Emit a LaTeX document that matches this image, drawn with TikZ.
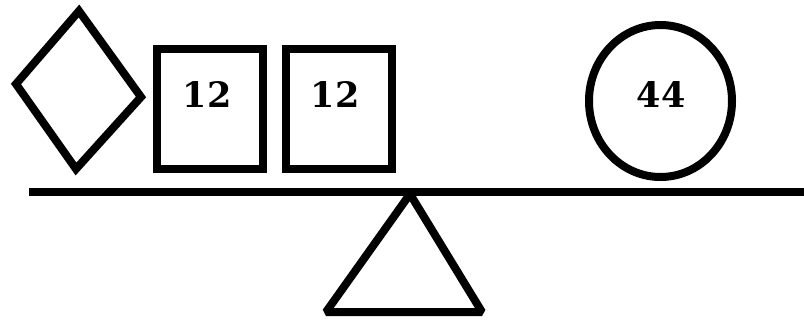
\documentclass[tikz,border=0pt]{standalone}
\usepackage{fontspec}
\newfontfamily\numfont{DejaVu Serif}
\usetikzlibrary{positioning,shapes.geometric}

\begin{document}
\begin{tikzpicture}[
  x=1pt, y=-1pt,
  outline/.style={draw=black, line width=8pt},
  box/.style={outline, minimum width=106pt, minimum height=120pt, inner sep=0pt},
  ball/.style={outline, ellipse, minimum width=143pt, minimum height=152pt, inner sep=0pt},
  num/.style={font=\numfont\bfseries\fontsize{35}{35}\selectfont, inner sep=0pt},
  beam/.style={draw=black, line width=8pt}
]
\useasboundingbox (0,0) rectangle (804,322);
% weights on the left
\coordinate (dtop) at (79,11);
\coordinate (dright) at (141,97);
\coordinate (dbot) at (76,169);
\coordinate (dleft) at (16,84);
\draw[outline, line join=miter] (dtop) -- (dright) -- (dbot) -- (dleft) -- cycle;
\node[box] (b1) at (210,109) {};
\node[box] (b2) at (338.5,109) {};
\node[num] (n1) at (207,95) {12};
\node[num] (n2) at (335,95) {12};
% weight on the right
\node[ball] (c1) at (660.5,101) {};
\node[num] (n3) at (661,95) {44};
% beam and pivot
\coordinate (beamL) at (29,192);
\coordinate (beamR) at (804,192);
\draw[beam] (beamL) -- (beamR);
\coordinate (apex) at (410,194);
\coordinate (baseL) at (326,312);
\coordinate (baseR) at (482,312);
\draw[outline, line join=bevel] (apex) -- (baseR) -- (baseL) -- cycle;
\end{tikzpicture}
\end{document}
